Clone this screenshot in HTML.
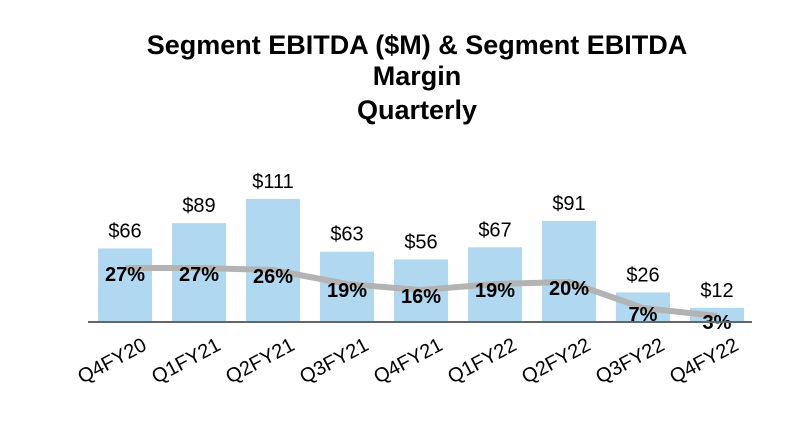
<!DOCTYPE html>
<html><head><meta charset="utf-8"><style>
body{margin:0;background:#fff;}
svg{display:block;font-family:"Liberation Sans",Arial,sans-serif;}
</style></head><body>
<svg id="chart" width="804" height="434" viewBox="0 0 804 434">
<g font-weight="bold" font-size="27" text-anchor="middle" fill="#000">
<text x="417" y="54">Segment EBITDA ($M) &amp; Segment EBITDA</text>
<text x="417" y="85">Margin</text>
<text x="417" y="119">Quarterly</text>
</g>
<g id="bars"></g>
<g id="line"></g>
<g id="labels"></g>
<line x1="88" y1="322" x2="752" y2="322" stroke="#666" stroke-width="2"/>
</svg>
<script>
const categories=["Q4FY20","Q1FY21","Q2FY21","Q3FY21","Q4FY21","Q1FY22","Q2FY22","Q3FY22","Q4FY22"];
const ebitda=[66,89,111,63,56,67,91,26,12];
const margin=[27,27,26,19,16,19,20,7,3];
const ns="http://www.w3.org/2000/svg";
const base=321, x0=125, pitch=74, bw=54;
const xc=i=>x0+i*pitch;
const yB=v=>base-v*1.1;
const yM=p=>322-p*2;
function mk(t,a,p){const e=document.createElementNS(ns,t);for(const k in a)e.setAttribute(k,a[k]);p.appendChild(e);return e;}
const gb=document.getElementById('bars'),gl=document.getElementById('line'),gt=document.getElementById('labels');
ebitda.forEach((v,i)=>{
 const r=mk('rect',{x:xc(i)-bw/2,y:yB(v),width:bw,height:base-yB(v),fill:"#b0d8f0"},gb);
 
 
 const t=mk('text',{x:xc(i),y:yB(v)-11,"text-anchor":"middle","font-size":"20",fill:"#000"},gt);
 t.textContent='$'+v;
 
 
 const c=mk('text',{x:0,y:0,"text-anchor":"end","font-size":"20",fill:"#000",transform:`translate(${xc(i)+23},${349}) rotate(-28)`},gt);
 c.textContent=categories[i];
 
 
});
const pl=mk('polyline',{points:margin.map((p,i)=>xc(i)+','+yM(p)).join(' '),fill:"none",stroke:"#b3b3b3","stroke-width":"6","stroke-linejoin":"round"},gl);


margin.forEach((p,i)=>{
 const t=mk('text',{x:xc(i),y:yM(p)+13,"text-anchor":"middle","font-size":"20","font-weight":"bold",fill:"#000"},gt);
 t.textContent=p+'%';
 
 
});
</script>
</body></html>
